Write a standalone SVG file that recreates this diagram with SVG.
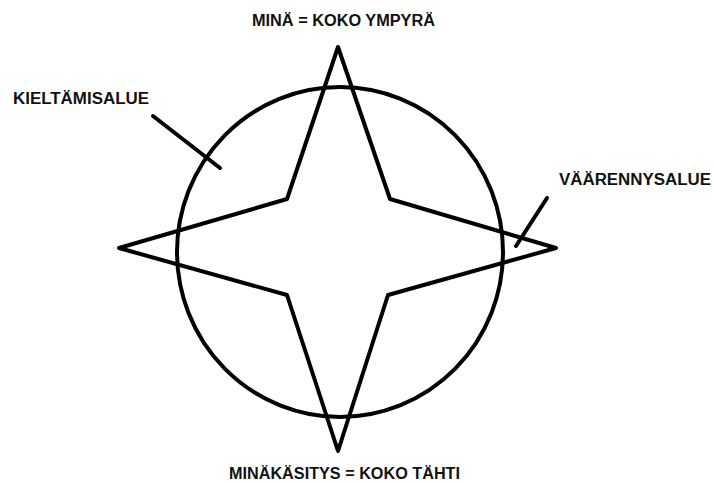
<svg xmlns="http://www.w3.org/2000/svg" width="714" height="483" viewBox="0 0 714 483">
<style>
.ln{fill:none;stroke:#000;stroke-width:4;stroke-linejoin:round;stroke-linecap:round}
.t{font-family:"Liberation Sans",Arial,sans-serif;font-weight:bold;font-size:16px;fill:#111}
</style>
<rect width="714" height="483" fill="#fff"/>
<g id="circle"><ellipse class="ln" cx="340" cy="252" rx="163" ry="165"/></g>
<g id="star"><polygon class="ln" points="338,47 390,199 556,248 388,295 338,451 287,295 119,248 287,199"/></g>
<g id="connectors">
<line class="ln" x1="153" y1="116" x2="220" y2="168"/>
<line class="ln" x1="547" y1="198" x2="516" y2="246"/>
</g>
<g id="label-top"><text class="t" x="252" y="26" textLength="183" lengthAdjust="spacingAndGlyphs">MINÄ = KOKO YMPYRÄ</text></g>
<g id="label-left"><text class="t" x="13" y="104" textLength="136" lengthAdjust="spacingAndGlyphs">KIELTÄMISALUE</text></g>
<g id="label-right"><text class="t" x="559" y="185" textLength="152" lengthAdjust="spacingAndGlyphs">VÄÄRENNYSALUE</text></g>
<g id="label-bottom"><text class="t" x="229" y="479" textLength="231" lengthAdjust="spacingAndGlyphs">MINÄKÄSITYS = KOKO TÄHTI</text></g>
</svg>
